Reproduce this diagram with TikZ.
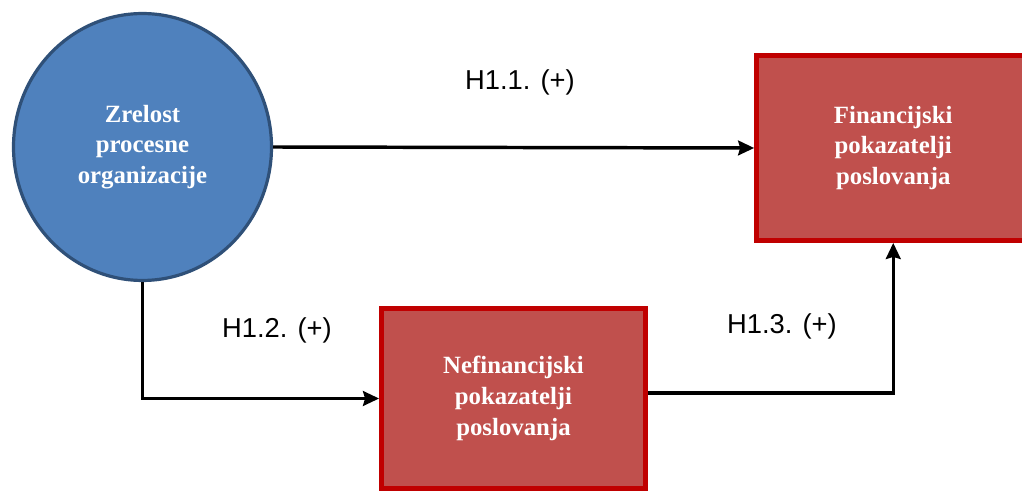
\documentclass[tikz,border=0pt]{standalone}
\usepackage{fontspec}
\setmainfont{Liberation Serif}
\setsansfont{Liberation Sans}
\usetikzlibrary{shapes.geometric,arrows.meta}
\definecolor{circfill}{HTML}{4F81BD}
\definecolor{circline}{HTML}{2F5078}
\definecolor{boxfill}{HTML}{C0504D}
\definecolor{boxline}{HTML}{C00000}

\begin{document}
\begin{tikzpicture}[x=0.75pt, y=0.75pt,
  box/.style={draw=boxline, fill=boxfill, line width=3.6pt, text=white, align=center, inner sep=0pt, font=\bfseries\fontsize{18.6}{23}\selectfont},
  hyp/.style={font=\sffamily\fontsize{20.5}{24}\selectfont},
  arr/.style={->, >={Stealth[length=12pt, width=11pt, inset=1.5pt]}, line width=2.6pt}]
\path[fill=white, use as bounding box] (0,0) rectangle (1022,493);
\node[ellipse, draw=circline, fill=circfill, line width=2.4pt, minimum width=193.5pt, minimum height=200.2pt, text=white, align=center, inner sep=0pt, font=\bfseries\fontsize{18.6}{23}\selectfont] (zrel) at (142.5,346) {Zrelost\\procesne\\organizacije};
\node[box, minimum width=205pt, minimum height=138.75pt] (fin) at (893.25,345) {Financijski\\pokazatelji\\poslovanja};
\node[box, minimum width=198pt, minimum height=135pt] (nef) at (513.5,94.5) {Nefinancijski\\pokazatelji\\poslovanja};
\node[hyp] (h11) at (520,411) {H1.1. (+)};
\node[hyp] (h12) at (277,163) {H1.2. (+)};
\node[hyp] (h13) at (782,167) {H1.3. (+)};
\draw[arr] (zrel.east) -- (fin.west);
\draw[arr] (zrel.south) |- (nef.west);
\draw[arr] ([yshift=4pt]nef.east) -| (fin.south);
\end{tikzpicture}
\end{document}
